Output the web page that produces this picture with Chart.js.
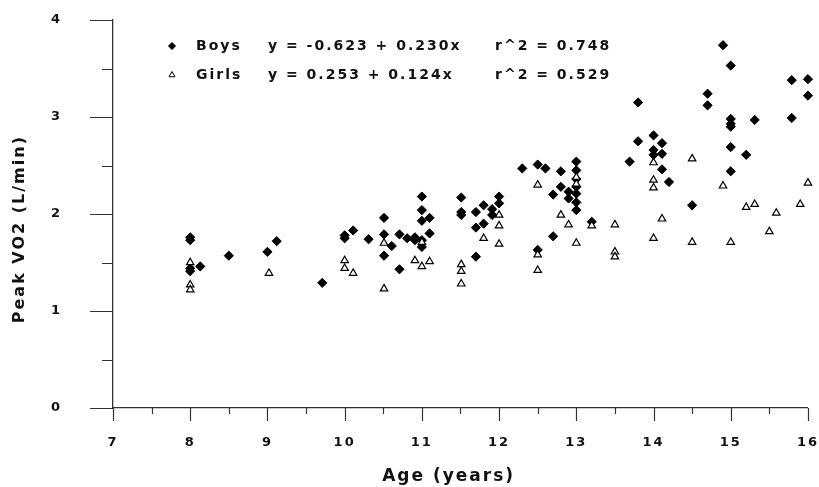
<!DOCTYPE html>
<html>
<head>
<meta charset="utf-8">
<script src="https://cdn.jsdelivr.net/npm/chart.js@4"></script>
<style>
  html, body { margin: 0; padding: 0; background: #fff; }
  #wrap { width: 819px; height: 487px; position: relative; }
</style>
</head>
<body>
<div id="wrap"><canvas id="chart"></canvas></div>
<script>
// values
const boysAge = [8, 8, 8, 8, 8.13, 8.5, 9, 9.12, 9.71, 10, 10, 10.11, 10.31,
  10.51, 10.51, 10.51, 10.61, 10.71, 10.71, 10.81, 10.91, 10.91,
  11, 11, 11, 11, 11, 11.1, 11.1, 11.51, 11.51, 11.51, 11.7, 11.7, 11.7,
  11.8, 11.8, 11.91, 11.91, 12, 12, 12.3, 12.5, 12.5, 12.6, 12.7, 12.7,
  12.8, 12.8, 12.9, 12.9, 13, 13, 13, 13, 13, 13, 13, 13.2, 13.69,
  13.8, 13.8, 14, 14, 14, 14.11, 14.11, 14.11, 14.2, 14.5, 14.7, 14.7,
  14.9, 15, 15, 15, 15, 15, 15, 15.2, 15.31, 15.79, 15.79, 16, 16];
const boysVO2 = [1.76, 1.73, 1.44, 1.41, 1.46, 1.57, 1.61, 1.72, 1.29, 1.78, 1.75, 1.83, 1.74,
  1.96, 1.79, 1.57, 1.67, 1.79, 1.43, 1.75, 1.76, 1.73,
  2.18, 2.04, 1.93, 1.73, 1.66, 1.96, 1.80, 2.17, 2.02, 1.99, 2.02, 1.86, 1.56,
  2.09, 1.90, 2.05, 1.99, 2.18, 2.11, 2.47, 2.51, 1.63, 2.47, 2.20, 1.77,
  2.44, 2.28, 2.23, 2.16, 2.54, 2.45, 2.36, 2.28, 2.21, 2.12, 2.04, 1.92, 2.54,
  3.15, 2.75, 2.81, 2.66, 2.61, 2.73, 2.62, 2.46, 2.33, 2.09, 3.24, 3.12,
  3.74, 3.53, 2.98, 2.93, 2.90, 2.69, 2.44, 2.61, 2.97, 3.38, 2.99, 3.39, 3.22];

const girlsAge = [8, 8, 8, 9.02, 10, 10, 10.11, 10.51, 10.51, 10.91, 11, 11, 11.1,
  11.51, 11.51, 11.51, 11.8, 12, 12, 12, 12.5, 12.5, 12.5, 12.8, 12.9,
  13, 13, 13, 13.2, 13.5, 13.5, 13.5, 14, 14, 14, 14, 14.11, 14.5, 14.5,
  14.9, 15, 15.2, 15.31, 15.5, 15.59, 15.9, 16];
const girlsVO2 = [1.50, 1.27, 1.22, 1.39, 1.52, 1.44, 1.39, 1.70, 1.23, 1.52, 1.71, 1.46, 1.51,
  1.48, 1.41, 1.28, 1.75, 1.99, 1.88, 1.69, 2.30, 1.58, 1.42, 1.99, 1.89,
  2.38, 2.31, 1.70, 1.88, 1.89, 1.61, 1.56, 2.53, 2.35, 2.27, 1.75, 1.95, 2.57, 1.71,
  2.29, 1.71, 2.07, 2.10, 1.82, 2.01, 2.10, 2.32];

const seriesNames = ['Boys', 'Girls'];
const fitEq = ['y = -0.623 + 0.230x', 'y = 0.253 + 0.124x'];
const fitR2 = ['r^2 = 0.748', 'r^2 = 0.529'];

const FONT = '"DejaVu Sans", Arial, sans-serif';
const INK = '#111';

const toPoints = (xs, ys) => xs.map((x, i) => ({ x: x, y: ys[i] }));

// wide lettering like the original print
const spacing = {
  id: 'spacing',
  beforeUpdate(chart) { chart.ctx.letterSpacing = '2px'; }
};

// legend with the fit equations, inside the plot near the top left
const insetLegend = {
  id: 'insetLegend',
  afterDatasetsDraw(chart) {
    const ctx = chart.ctx, area = chart.chartArea;
    ctx.save();
    ctx.font = 'bold 14px ' + FONT;
    ctx.textBaseline = 'middle';
    chart.data.datasets.forEach((ds, i) => {
      const y = area.top + 26 + i * 29;
      const x = area.left + 59;
      ctx.fillStyle = ds.backgroundColor;
      ctx.strokeStyle = ds.borderColor;
      ctx.lineWidth = 1;
      Chart.helpers.drawPoint(ctx, { pointStyle: ds.pointStyle, radius: 3.5, borderWidth: 1, rotation: 0 }, x, y);
      ctx.fillStyle = INK;
      ctx.fillText(seriesNames[i], area.left + 83, y);
      ctx.fillText(fitEq[i], area.left + 155, y);
      ctx.fillText(fitR2[i], area.left + 382, y);
    });
    ctx.restore();
  }
};

// outward tick marks, long on whole numbers and short on halves
const tickMarks = {
  id: 'tickMarks',
  afterDraw(chart) {
    const ctx = chart.ctx;
    const xs = chart.scales.x, ys = chart.scales.y;
    ctx.save();
    ctx.strokeStyle = '#333';
    ctx.lineWidth = 1.2;
    ctx.beginPath();
    xs.ticks.forEach(t => {
      const px = Math.round(xs.getPixelForValue(t.value)) + 0.5;
      const len = Number.isInteger(t.value) ? 13 : 6;
      ctx.moveTo(px, xs.top);
      ctx.lineTo(px, xs.top + len);
    });
    ys.ticks.forEach(t => {
      const py = Math.round(ys.getPixelForValue(t.value)) + 0.5;
      const len = Number.isInteger(t.value) ? 23 : 11;
      ctx.moveTo(ys.right, py);
      ctx.lineTo(ys.right - len, py);
    });
    ctx.stroke();
    ctx.restore();
  }
};

const intLabel = v => Number.isInteger(v) ? String(v) : '';
// the library's own tick lines are kept invisible; they only hold the label offset
const hiddenGrid = len => ({ display: true, drawOnChartArea: false, drawTicks: true, tickLength: len, color: 'rgba(0,0,0,0)' });

new Chart(document.getElementById('chart'), {
  type: 'scatter',
  data: {
    datasets: [
      {
        label: seriesNames[0],
        data: toPoints(boysAge, boysVO2),
        pointStyle: 'rectRot',
        radius: 4.6,
        backgroundColor: '#000',
        borderColor: '#000',
        borderWidth: 1,
        order: 1,
        clip: false
      },
      {
        label: seriesNames[1],
        data: toPoints(girlsAge, girlsVO2),
        pointStyle: 'triangle',
        radius: 4.3,
        backgroundColor: '#fff',
        borderColor: '#000',
        borderWidth: 1.2,
        order: 0,
        clip: false
      }
    ]
  },
  options: {
    responsive: true,
    maintainAspectRatio: false,
    animation: false,
    layout: { padding: { left: 0, right: 10, top: 20, bottom: 0 } },
    plugins: {
      tooltip: { enabled: false },
      legend: { display: false }
    },
    scales: {
      x: {
        type: 'linear',
        min: 7,
        max: 16,
        grid: hiddenGrid(27),
        border: { display: true, color: '#333', width: 1.3 },
        ticks: {
          stepSize: 0.5,
          autoSkip: false,
          maxRotation: 0,
          padding: 0,
          color: INK,
          font: { family: FONT, size: 13, weight: 'bold' },
          callback: intLabel
        },
        title: {
          display: true,
          text: 'Age (years)   ',
          color: INK,
          padding: { top: 0, bottom: 0 },
          font: { family: FONT, size: 17, weight: 'bold' }
        },
        afterFit(s) { s.height = 79; }
      },
      y: {
        type: 'linear',
        min: 0,
        max: 4,
        grid: hiddenGrid(48),
        border: { display: true, color: '#333', width: 1.3 },
        ticks: {
          stepSize: 0.5,
          autoSkip: false,
          padding: 3,
          color: INK,
          font: { family: FONT, size: 13, weight: 'bold' },
          callback: intLabel
        },
        title: {
          display: true,
          text: 'Peak VO2 (L/min)    ',
          color: INK,
          padding: { top: 10, bottom: 0 },
          font: { family: FONT, size: 16, weight: 'bold' }
        },
        afterFit(s) { s.width = 113; }
      }
    }
  },
  plugins: [spacing, insetLegend, tickMarks]
});
</script>
</body>
</html>
